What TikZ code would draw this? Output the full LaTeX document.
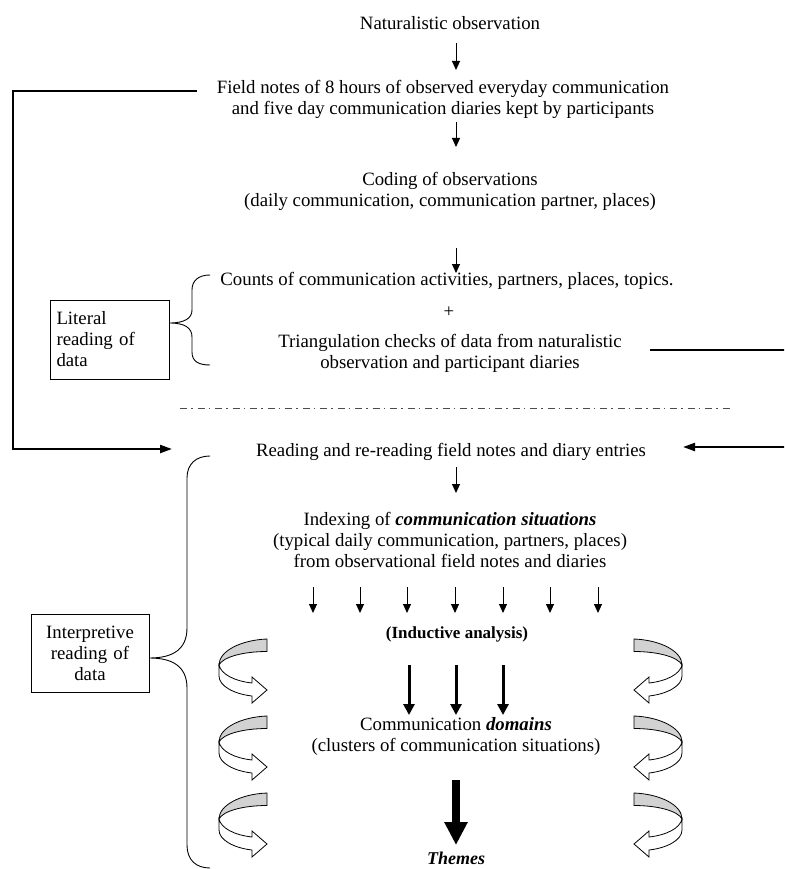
\documentclass[tikz,border=0pt]{standalone}
\usepackage{fontspec}
\setmainfont{Liberation Serif}
\usetikzlibrary{arrows.meta}
\begin{document}
\begin{tikzpicture}[x=1pt,y=-1pt,
  txt/.style={font=\fontsize{18.8}{21}\selectfont, align=center, inner sep=0pt},
  boxlbl/.style={draw, line width=0.9pt, font=\fontsize{18.8}{21}\selectfont, inner sep=0pt},
  arr/.style={line width=1pt, -{Triangle[width=8pt,length=9pt]}},
  tarr/.style={line width=3pt, -{Triangle[width=11pt,length=11pt]}},
  barr/.style={line width=8pt, -{Triangle[width=22pt,length=23pt]}},
  fb/.style={line width=2.2pt, -{Triangle[width=8pt,length=12pt]}},
  bracepath/.style={line width=0.9pt},
  dashdotline/.style={line width=0.9pt, black!70, dash pattern=on 7pt off 4pt on 1.5pt off 5pt},
  curly/.pic={
    \draw[line width=0.8pt, fill=white] (0,26) -- (0,37) .. controls (0,47) and (15,55) .. (33,57)
      -- (33,64) -- (48,51) -- (33,38) -- (33,44) .. controls (15,42) and (2,35) .. (0,26) -- cycle;
    \draw[line width=0.8pt, fill=gray!35] (48,0) .. controls (22,1) and (0,12) .. (0,26)
      .. controls (4,18) and (24,12.5) .. (48,12.5) -- cycle;
  }]
\useasboundingbox (0,0) rectangle (784,869);
\clip (0,0) rectangle (784,869);

% main texts
\node[txt] (n1) at (450,23) {Naturalistic observation};
\node[txt] (n2) at (443,99) {Field notes of 8 hours of observed everyday communication\\and five day communication diaries kept by participants};
\node[txt] (n3) at (450,191) {Coding of observations\\(daily communication, communication partner, places)};
\node[txt] (n4) at (447,281) {Counts of communication activities, partners, places, topics.};
\node[txt] (plus) at (449,312) {+};
\node[txt] (n5) at (450,353) {Triangulation checks of data from naturalistic\\observation and participant diaries};
\node[txt] (n6) at (451,452) {Reading and re-reading field notes and diary entries};
\node[txt] (n7) at (450,540) {Indexing of \textbf{\textit{communication situations}}\\(typical daily communication, partners, places)\\from observational field notes and diaries};
\node[txt, font=\fontsize{17}{20}\selectfont\bfseries] (n8) at (457,634) {(Inductive analysis)};
\node[txt] (n9) at (456,736) {Communication \textbf{\textit{domains}}\\(clusters of communication situations)};
\node[txt, font=\fontsize{18}{21}\selectfont\bfseries\itshape] (n10) at (456,858) {Themes};

% side boxes
\node[boxlbl, text width=106pt, align=left, inner xsep=6.5pt, minimum height=79pt] (lit) at (109.5,339.5) {Literal\\reading of\\data};
\node[boxlbl, text width=118pt, align=center, minimum height=78pt] (intp) at (90,653) {Interpretive\\reading of\\data};

% braces
\draw[bracepath] (210,275) .. controls (198,275) and (192,281) .. (192,290) -- (192,310)
  .. controls (192,318) and (185,323) .. (lit.east |- 0,323) .. controls (185,323) and (192,328) .. (192,337)
  -- (192,352) .. controls (192,361) and (198,365) .. (210,365);
\draw[bracepath] (210,456) .. controls (196,456) and (187,464) .. (187,478) -- (187,628)
  .. controls (187,650) and (172,658) .. (intp.east |- 0,658) .. controls (172,658) and (187,666) .. (187,688)
  -- (187,845) .. controls (187,860) and (196,868) .. (210,868);

% vertical flow arrows
\foreach \i/\ya/\yb in {1/43/70, 2/122/147, 3/248/273, 4/467/493}
  \coordinate (s\i) at (456,\ya);
\foreach \i/\ya/\yb in {1/43/70, 2/122/147, 3/248/273, 4/467/493}
  \coordinate (e\i) at (456,\yb);
\foreach \i in {1,...,4} \draw[arr] (s\i) -- (e\i);

\foreach \x in {313,360,407,455,503,550,598} {
  \coordinate (ks\x) at (\x,587);
  \coordinate (ke\x) at (\x,613);
  \draw[arr] (ks\x) -- (ke\x);
}
\foreach \x in {409,456,503} {
  \coordinate (ts\x) at (\x,665);
  \coordinate (te\x) at (\x,715);
  \draw[tarr] (ts\x) -- (te\x);
}
\coordinate (bs) at (456,780);
\coordinate (be) at (456,845);
\draw[barr] (bs) -- (be);

% dash-dot separator
\coordinate (dl) at (180,408);
\coordinate (dr) at (730,408);
\draw[dashdotline] (dl) -- (dr);

% feedback lines
\coordinate (fl0) at (197,91);
\coordinate (fl1) at (172,449);
\draw[fb] (fl0) -- (13,91) -- (13,449) -- (fl1);
\coordinate (fr0) at (650,350);
\coordinate (fr1) at (683,447);
\draw[fb] (fr0) -- (800,350) -- (800,447) -- (fr1);

% curly arrows
\foreach \y in {639,716,793} {
  \pic at (219,\y) {curly};
  \pic[xscale=-1] at (682,\y) {curly};
}
\end{tikzpicture}
\end{document}
